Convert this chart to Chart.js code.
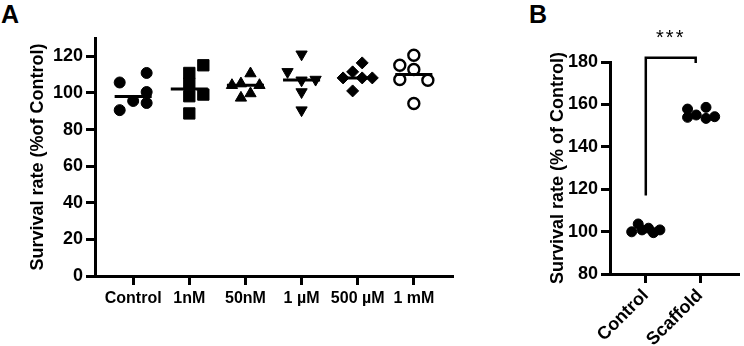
<!DOCTYPE html>
<html>
<head>
<meta charset="utf-8">
<script src="https://cdn.jsdelivr.net/npm/chart.js@4"></script>
<style>
  body { margin: 0; background: #fff; width: 744px; height: 346px; position: relative; overflow: hidden; }
  .panel { position: absolute; top: 0; }
  .tag { position: absolute; top: 0; font: bold 25px "Liberation Sans", Arial, sans-serif; color: #000; }
</style>
</head>
<body>
<div class="tag" style="left:1px;">A</div>
<div class="tag" style="left:529px;">B</div>
<canvas id="chartA" class="panel" style="left:0;" width="470" height="346"></canvas>
<canvas id="chartB" class="panel" style="left:520px;" width="224" height="346"></canvas>
<script>
// panel A: survival rate for each treatment
const categoriesA = ["Control", "1nM", "50nM", "1 µM", "500 µM", "1 mM"];
const controlA = [105.7, 110.9, 100.5, 95.6, 94.5, 90.6];
const nm1 = [115.1, 110.9, 105.1, 99.1, 98.2, 88.8];
const nm50 = [110.6, 104.2, 105.1, 104.2, 97.3, 99.7];
const um1 = [121.1, 111.5, 106.9, 107.3, 100.5, 90.6];
const um500 = [116.4, 111.5, 108.2, 108.2, 108.2, 101.1];
const mm1 = [120.6, 115.1, 112.8, 107.3, 106.9, 94.2];
const yTicksA = [0, 20, 40, 60, 80, 100, 120];

// horizontal spread of the dots inside each column (category units)
const jitterA = [
  [-0.24, 0.24, 0.24, 0, 0.24, -0.24],
  [0.25, 0, 0, 0.25, 0, 0],
  [0.09, -0.24, -0.08, 0.25, -0.08, 0.09],
  [0, -0.25, 0, 0.25, 0, 0],
  [0.08, -0.09, -0.26, 0.08, 0.26, -0.09],
  [0, -0.25, 0, -0.25, 0.25, 0]
];

// panel B: control vs scaffold
const categoriesB = ["Control", "Scaffold"];
const controlB = [103.6, 99.9, 100.8, 101.6, 99.5, 100.8];
const scaffoldB = [157.8, 158.6, 155.0, 153.9, 153.4, 154.2];
const jitterB = [
  [-0.14, -0.26, -0.07, 0.05, 0.14, 0.26],
  [-0.23, 0.11, -0.07, -0.23, 0.11, 0.27]
];
const yTicksB = [80, 100, 120, 140, 160, 180];
const bracketX = [0, 0.92];
const bracketY = [117, 182, 182, 179.5];
const signif = "***";

const arial = '"Liberation Sans", Arial, sans-serif';

function median(arr) {
  const s = [...arr].sort((a, b) => a - b);
  const m = Math.floor(s.length / 2);
  return s.length % 2 ? s[m] : (s[m - 1] + s[m]) / 2;
}

function points(values, i, jit) {
  return values.map((v, k) => ({ x: i + jit[k], y: v }));
}

function axisStyle() {
  return {
    border: { color: "#000", width: 3 },
    grid: { drawOnChartArea: false, drawTicks: true, tickLength: 9, tickWidth: 3, tickColor: "#000", color: "#000", lineWidth: 3 }
  };
}

const groupsA = [controlA, nm1, nm50, um1, um500, mm1];
const markers = [
  { pointStyle: "circle", radius: 5.5, rotation: 0, bg: "#000", bw: 1 },
  { pointStyle: "rect", radius: 8, rotation: 0, bg: "#000", bw: 1 },
  { pointStyle: "triangle", radius: 6.5, rotation: 0, bg: "#000", bw: 1 },
  { pointStyle: "triangle", radius: 6.5, rotation: 180, bg: "#000", bw: 1 },
  { pointStyle: "rectRot", radius: 6, rotation: 0, bg: "#000", bw: 1 },
  { pointStyle: "circle", radius: 5.5, rotation: 0, bg: "#fff", bw: 2.4 }
];

const medianSets = groupsA.map((g, i) => {
  const m = median(g);
  return {
    data: [{ x: i - 0.33, y: m }, { x: i + 0.33, y: m }],
    showLine: true, borderColor: "#000", borderWidth: 3, pointRadius: 0
  };
});

const dotSets = groupsA.map((g, i) => ({
  data: points(g, i, jitterA[i]),
  pointStyle: markers[i].pointStyle,
  pointRadius: markers[i].radius,
  pointRotation: markers[i].rotation,
  pointBackgroundColor: markers[i].bg,
  pointBorderColor: "#000",
  pointBorderWidth: markers[i].bw,
  showLine: false
}));

new Chart(document.getElementById("chartA"), {
  type: "scatter",
  data: { datasets: [...medianSets, ...dotSets] },
  options: {
    responsive: false,
    animation: false,
    layout: { padding: { top: 38, right: 18, left: 0, bottom: 0 } },
    plugins: { legend: { display: false }, tooltip: { enabled: false } },
    scales: {
      x: {
        type: "linear", min: -0.68, max: 5.68,
        ...axisStyle(),
        afterBuildTicks: (s) => { s.ticks = categoriesA.map((_, i) => ({ value: i })); },
        afterFit: (s) => { s.height = 70; },
        ticks: {
          color: "#000", padding: 4, maxRotation: 0, autoSkip: false,
          font: { family: arial, size: 16, weight: "bold" },
          callback: (v) => categoriesA[v]
        }
      },
      y: {
        min: 0, max: 130,
        ...axisStyle(),
        afterBuildTicks: (s) => { s.ticks = yTicksA.map((v) => ({ value: v })); },
        afterFit: (s) => { s.width = 95; },
        ticks: { color: "#000", padding: 3, font: { family: arial, size: 18, weight: "bold" } },
        title: {
          display: true, text: "Survival rate (%of Control)", color: "#000",
          font: { family: arial, size: 18, weight: "bold" }, padding: { top: 27, bottom: 0 }
        }
      }
    }
  }
});

const starsPlugin = {
  id: "stars",
  afterDatasetsDraw(chart) {
    const { ctx, scales } = chart;
    const x = scales.x.getPixelForValue((bracketX[0] + bracketX[1]) / 2);
    const y = scales.y.getPixelForValue(bracketY[1]) - 14;
    ctx.save();
    ctx.font = "20px " + arial;
    ctx.letterSpacing = "2px";
    ctx.fillStyle = "#000";
    ctx.textAlign = "center";
    ctx.textBaseline = "alphabetic";
    ctx.fillText(signif, x, y);
    ctx.restore();
  }
};

new Chart(document.getElementById("chartB"), {
  type: "scatter",
  data: {
    datasets: [
      {
        data: [
          { x: bracketX[0], y: bracketY[0] }, { x: bracketX[0], y: bracketY[1] },
          { x: bracketX[1], y: bracketY[2] }, { x: bracketX[1], y: bracketY[3] }
        ],
        showLine: true, borderColor: "#000", borderWidth: 2.5, pointRadius: 0, clip: false
      },
      {
        data: [...points(controlB, 0, jitterB[0]), ...points(scaffoldB, 1, jitterB[1])],
        pointStyle: "circle", pointRadius: 5, pointBackgroundColor: "#000",
        pointBorderColor: "#000", pointBorderWidth: 1, showLine: false
      }
    ]
  },
  options: {
    responsive: false,
    animation: false,
    layout: { padding: { top: 62, right: 2, left: 0, bottom: 0 } },
    plugins: { legend: { display: false }, tooltip: { enabled: false } },
    scales: {
      x: {
        type: "linear", min: -0.66, max: 1.7,
        ...axisStyle(),
        afterBuildTicks: (s) => { s.ticks = categoriesB.map((_, i) => ({ value: i })); },
        afterFit: (s) => { s.height = 72; },
        ticks: {
          color: "#000", padding: 2, minRotation: 45, maxRotation: 45, autoSkip: false,
          font: { family: arial, size: 18, weight: "bold" },
          callback: (v) => categoriesB[v]
        }
      },
      y: {
        min: 80, max: 180,
        ...axisStyle(),
        afterBuildTicks: (s) => { s.ticks = yTicksB.map((v) => ({ value: v })); },
        afterFit: (s) => { s.width = 90; },
        ticks: { color: "#000", padding: 3, font: { family: arial, size: 18, weight: "bold" } },
        title: {
          display: true, text: "Survival rate (% of Control)", color: "#000",
          font: { family: arial, size: 18, weight: "bold" }, padding: { top: 27, bottom: 0 }
        }
      }
    }
  },
  plugins: [starsPlugin]
});
</script>
</body>
</html>
